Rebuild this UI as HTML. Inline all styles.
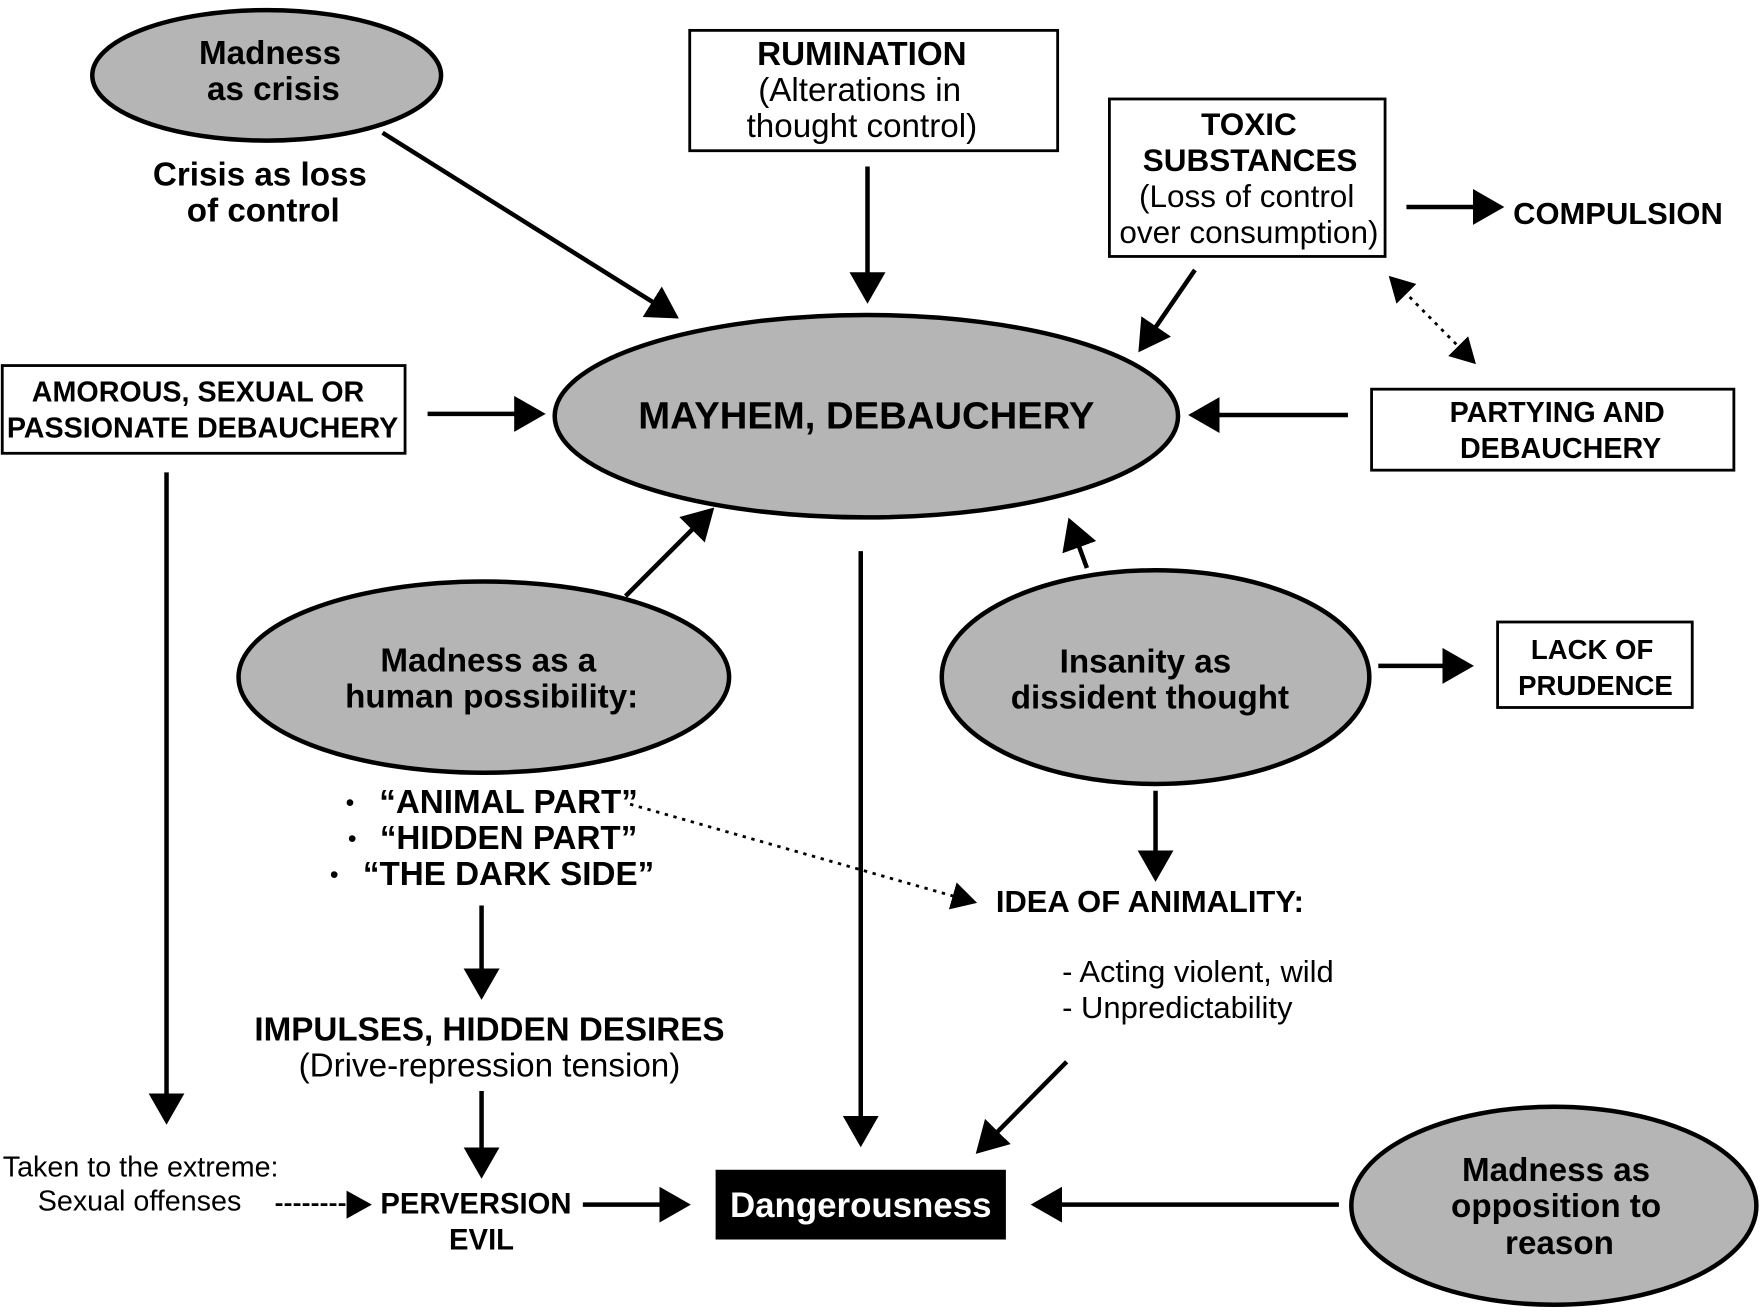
<!DOCTYPE html>
<html><head><meta charset="utf-8"><style>
html,body{margin:0;padding:0;background:#fff;}
svg{display:block;}
text{font-family:"Liberation Sans",Arial,sans-serif;fill:#000;}
.b{font-weight:bold;}
</style></head><body>
<svg width="1762" height="1316" viewBox="0 0 1566 1170" preserveAspectRatio="none" xmlns="http://www.w3.org/2000/svg">
<defs>
<marker id="ah" markerWidth="8" markerHeight="8" refX="6" refY="4" orient="auto" markerUnits="strokeWidth">
<path d="M0,0 L7,4 L0,8 Z" fill="#000"/></marker>
<marker id="ahs" markerWidth="10" markerHeight="10" refX="8" refY="5" orient="auto-start-reverse" markerUnits="strokeWidth">
<path d="M0,0 L9,5 L0,10 Z" fill="#000"/></marker>
</defs>
<g stroke="#000" stroke-width="4" fill="#b5b5b5">
<ellipse cx="237" cy="67" rx="155" ry="58"/>
<ellipse cx="770" cy="370" rx="277" ry="90"/>
<ellipse cx="430" cy="602" rx="218" ry="85"/>
<ellipse cx="1027" cy="602" rx="190" ry="95"/>
<ellipse cx="1381" cy="1072" rx="180" ry="88"/>
</g>
<g stroke="#000" stroke-width="2.5" fill="#fff">
<rect x="613" y="27" width="327" height="107"/>
<rect x="986" y="88" width="245" height="140"/>
<rect x="2" y="325" width="358" height="78"/>
<rect x="1219" y="346" width="322" height="72"/>
<rect x="1331" y="553" width="173" height="76"/>
</g>
<rect x="636" y="1040" width="258" height="62" fill="#000"/>
<g stroke="#000" stroke-width="4" fill="none" marker-end="url(#ah)">
<line x1="340" y1="118" x2="600" y2="281"/>
<line x1="771" y1="148" x2="771" y2="266"/>
<line x1="1250" y1="184" x2="1333" y2="184"/>
<line x1="1062" y1="240" x2="1014" y2="310"/>
<line x1="380" y1="368" x2="481" y2="368"/>
<line x1="1198" y1="369" x2="1060" y2="369"/>
<line x1="148" y1="420" x2="148" y2="996"/>
<line x1="556" y1="530" x2="632" y2="454"/>
<line x1="765" y1="490" x2="765" y2="1016"/>
<line x1="966" y1="505" x2="951" y2="464"/>
<line x1="1225" y1="592" x2="1306" y2="592"/>
<line x1="1027" y1="703" x2="1027" y2="780"/>
<line x1="428" y1="805" x2="428" y2="885"/>
<line x1="428" y1="970" x2="428" y2="1044"/>
<line x1="518" y1="1071" x2="610" y2="1071"/>
<line x1="948" y1="944" x2="870" y2="1023"/>
<line x1="1190" y1="1071" x2="920" y2="1071"/>
</g>
<line x1="1236" y1="247" x2="1310" y2="322" stroke="#000" stroke-width="2.5" stroke-dasharray="3,5" marker-start="url(#ahs)" marker-end="url(#ahs)"/>
<line x1="560" y1="715" x2="866" y2="802" stroke="#000" stroke-width="2.5" stroke-dasharray="3,5" marker-end="url(#ahs)"/>
<line x1="245" y1="1071" x2="328" y2="1071" stroke="#000" stroke-width="2.5" stroke-dasharray="6,2" marker-end="url(#ahs)"/>
<g class="b" font-size="29.5" text-anchor="middle">
<text x="240" y="57">Madness</text>
<text x="243" y="89">as crisis</text>
<text x="231" y="165">Crisis as loss</text>
<text x="234" y="197">of control</text>
<text x="766" y="58">RUMINATION</text>
<text x="1110" y="120" font-size="28">TOXIC</text>
<text x="1111" y="152" font-size="28">SUBSTANCES</text>
<text x="770" y="381" font-size="34">MAYHEM, DEBAUCHERY</text>
<text x="434" y="597">Madness as a</text>
<text x="437" y="629">human possibility:</text>
<text x="1018" y="598">Insanity as</text>
<text x="1022" y="630">dissident thought</text>
<text x="1383" y="1050">Madness as</text>
<text x="1383" y="1082">opposition to</text>
<text x="1386" y="1115">reason</text>
<text x="435" y="925">IMPULSES, HIDDEN DESIRES</text>
<text x="765" y="1082" style="fill:#fff" font-size="31">Dangerousness</text>
</g>
<g class="b" font-size="25.5" text-anchor="middle">
<text x="176" y="357">AMOROUS, SEXUAL OR</text>
<text x="180" y="389">PASSIONATE DEBAUCHERY</text>
<text x="1384" y="375">PARTYING AND</text>
<text x="1387" y="407">DEBAUCHERY</text>
<text x="1415" y="586" font-size="24.5">LACK OF</text>
<text x="1418" y="618" font-size="24.5">PRUDENCE</text>
<text x="1022" y="811" font-size="27.5">IDEA OF ANIMALITY:</text>
<text x="423" y="1079" font-size="26">PERVERSION</text>
<text x="428" y="1111" font-size="26">EVIL</text>
<text x="1438" y="199" font-size="27.5">COMPULSION</text>
</g>
<g class="b" font-size="29.5" text-anchor="middle">
<text x="452" y="723">“ANIMAL PART”</text>
<text x="452" y="755">“HIDDEN PART”</text>
<text x="452" y="787">“THE DARK SIDE”</text>
</g>
<g font-size="22" text-anchor="middle">
<text x="311" y="721">•</text>
<text x="313" y="753">•</text>
<text x="297" y="785">•</text>
</g>
<g font-size="29.5" text-anchor="middle">
<text x="764" y="90">(Alterations in</text>
<text x="766" y="122">thought control)</text>
<text x="1108" y="184" font-size="28">(Loss of control</text>
<text x="1110" y="216" font-size="28">over consumption)</text>
<text x="435" y="957">(Drive-repression tension)</text>
</g>
<g font-size="27.5">
<text x="944" y="873">- Acting violent, wild</text>
<text x="944" y="905">- Unpredictability</text>
</g>
<g font-size="25.5" text-anchor="middle">
<text x="125" y="1046">Taken to the extreme:</text>
<text x="124" y="1076">Sexual offenses</text>
</g>
</svg>
</body></html>
